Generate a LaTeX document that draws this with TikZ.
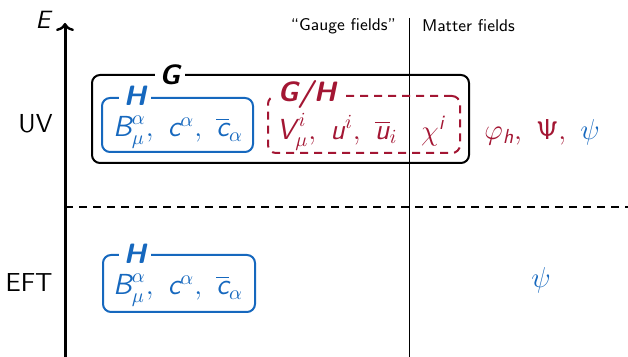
\documentclass[tikz,border=0pt]{standalone}
\usepackage[no-math]{fontspec}
\usepackage{amsmath}
\usetikzlibrary{arrows.meta}
\definecolor{hblue}{RGB}{22,104,190}
\definecolor{gred}{RGB}{163,22,51}
\newcommand{\sfv}[1]{\text{\sffamily\itshape #1}}
\begin{document}
\begin{tikzpicture}[x=0.5pt,y=-0.5pt,
    font=\sffamily\fontsize{13}{15}\selectfont,
    group/.style={draw,line width=1pt,rounded corners=4pt,inner sep=0pt},
    grouplabel/.style={fill=white,inner xsep=2.5pt,inner ysep=0.3pt,
      font=\sffamily\bfseries\itshape\fontsize{14}{16}\selectfont},
    fields/.style={inner sep=0pt,font=\sffamily\fontsize{14.5}{17}\selectfont},
    small/.style={font=\sffamily\fontsize{8.5}{10}\selectfont}]
  \useasboundingbox (0,0) rectangle (628,357);
  % axes and dividers
  \coordinate (axbot) at (65,357);
  \coordinate (axtop) at (65,23);
  \coordinate (cuta) at (65,207);
  \coordinate (cutb) at (628,207);
  \coordinate (divtop) at (409,18);
  \coordinate (divbot) at (409,357);
  \draw[line width=1.5pt,-{To[length=4pt,width=9pt,line width=1.2pt]}] (axbot) -- (axtop);
  \draw[line width=1pt,dash pattern=on 4pt off 3pt] (cuta) -- (cutb);
  \draw[line width=0.5pt] (divtop) -- (divbot);
  \node[font=\sffamily\itshape\fontsize{12.5}{14}\selectfont,inner sep=0pt] (E) at (43,20) {E};
  \node[anchor=east,inner sep=0pt] (uv) at (53,124) {UV};
  \node[anchor=east,inner sep=0pt] (eft) at (53,283) {EFT};
  \node[small,anchor=east] (gauge) at (403,26) {``Gauge fields''};
  \node[small,anchor=west] (matter) at (415,26) {Matter fields};
  % UV groups
  \node[group,minimum width=188.5pt,minimum height=44pt] (G) at (280.5,119) {};
  \node[group,hblue,minimum width=75.5pt,minimum height=27pt] (H) at (177.5,125) {};
  \node[group,gred,dash pattern=on 4pt off 3pt,minimum width=96pt,minimum height=28.5pt] (GH) at (364,124.5) {};
  \node[grouplabel] (Glab) at (170,75) {G};
  \node[grouplabel,text=hblue] (Hlab) at (135,96) {H};
  \node[grouplabel,text=gred] (GHlab) at (307,95) {G/H};
  \node[fields,text=hblue] (Hf) at (178,132)
    {$\sfv{B}^{\alpha}_{\mu},\ \sfv{c}^{\alpha},\ \overline{\sfv{c}}_{\alpha}$};
  \node[fields,text=gred] (GHf) at (337,132)
    {$\sfv{V}^{\,i}_{\mu},\ \sfv{u}^{i},\ \overline{\sfv{u}}_{i}$};
  \node[fields,text=gred] (chi) at (433,131) {$\chi^{\sfv{i}}$};
  \node[fields] (matt) at (542,132)
    {$\color{gred}\varphi_{\sfv{h}},\ \mathsf{\Psi},\ \color{hblue}\psi$};
  % EFT group
  \node[group,hblue,minimum width=76pt,minimum height=28.5pt] (Heft) at (179,283.5) {};
  \node[grouplabel,text=hblue] (Heftlab) at (135,254) {H};
  \node[fields,text=hblue] (Heftf) at (178,290)
    {$\sfv{B}^{\alpha}_{\mu},\ \sfv{c}^{\alpha},\ \overline{\sfv{c}}_{\alpha}$};
  \node[fields,text=hblue] (psi) at (541,280) {$\psi$};
\end{tikzpicture}
\end{document}
